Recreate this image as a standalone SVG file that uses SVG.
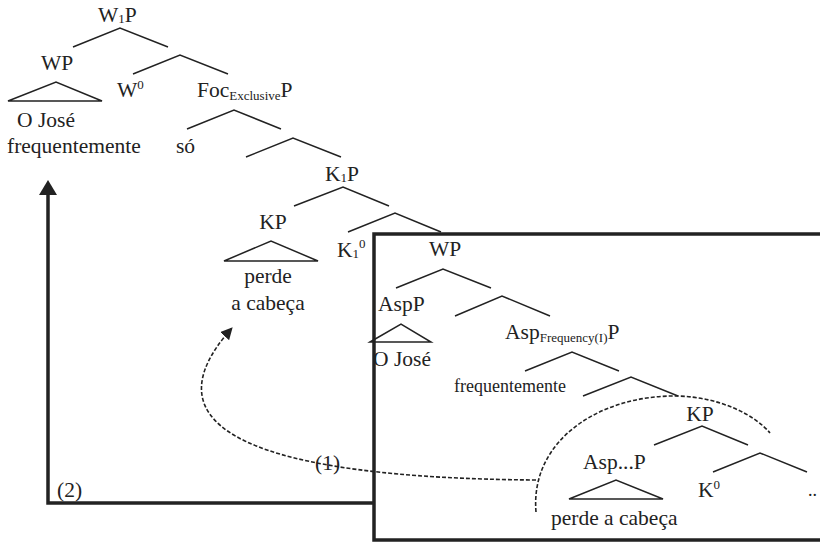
<svg xmlns="http://www.w3.org/2000/svg" width="820" height="542" viewBox="0 0 820 542">
<defs>
<style>
text{font-family:"Liberation Serif","Times New Roman",serif;font-size:21.5px;fill:#222}
.s{font-size:13px}
.sm{font-size:18px}
.br{fill:none;stroke:#222;stroke-width:1.5;stroke-linejoin:miter}
.tri{fill:none;stroke:#222;stroke-width:1.5}
.box{fill:none;stroke:#222;stroke-width:3.5}
.dash{fill:none;stroke:#222;stroke-width:1.6;stroke-dasharray:4 2}
</style>
<marker id="ah" viewBox="0 0 12 12" refX="11" refY="6" markerWidth="12" markerHeight="12" markerUnits="userSpaceOnUse" orient="auto">
<path d="M0,0 L12,6 L0,12 z" fill="#222"/>
</marker>
</defs>
<rect width="820" height="542" fill="#fff"/>

<g id="box-lower">
<rect class="box" x="374" y="234" width="470" height="306"/>
</g>

<g id="connectors">
<path class="br" d="M73,47 L120,28 L168,47"/>
<path class="br" d="M133,74 L180,55 L228,74"/>
<path class="br" d="M187,129 L234,110 L281,129"/>
<path class="br" d="M246,157 L293,138 L341,157"/>
<path class="br" d="M294,206 L343,187 L389,206"/>
<path class="br" d="M348,232 L395,213 L441,232"/>
<path class="br" d="M396,288 L443,269 L491,288"/>
<path class="br" d="M455,316 L502,296 L550,316"/>
<path class="br" d="M525,371 L572,352 L619,371"/>
<path class="br" d="M583,396 L631,377 L678,396"/>
<path class="br" d="M654,445 L702,426 L748,445"/>
<path class="br" d="M713,472 L760,453 L807,472"/>
<path class="tri" d="M8,101 L56,82 L102,101 Z"/>
<path class="tri" d="M224,261 L271,241 L318,261 Z"/>
<path class="tri" d="M370,342 L401,324 L431,342 Z"/>
<path class="tri" d="M569,499 L616,480 L663,499 Z"/>
<path class="dash" d="M536,512 C530,440 600,395 677,396 C720,397 755,415 770,433"/>
<path class="dash" d="M536,480 C260,478 140,430 232,328" marker-end="url(#ah)"/>
<path fill="none" stroke="#222" stroke-width="3.5" d="M374,503 H48 V192"/>
<polygon points="48,180 39,195 57,195" fill="#222"/>
</g>

<g id="n-W1P"><text x="98" y="22">W<tspan class="s" dy="1">1</tspan><tspan dy="-1">P</tspan></text></g>
<g id="n-WP"><text x="57" y="70" text-anchor="middle">WP</text></g>
<g id="n-W0"><text x="117" y="97">W<tspan class="s" dy="-8">0</tspan></text></g>
<g id="n-FocP"><text x="197" y="97">Foc<tspan class="s" dy="3">Exclusive</tspan><tspan dy="-3">P</tspan></text></g>
<g id="n-OJose"><text x="17" y="127">O José</text></g>
<g id="n-freq"><text x="7" y="153">frequentemente</text></g>
<g id="n-so"><text x="176" y="153">só</text></g>
<g id="n-K1P"><text x="325" y="181">K<tspan class="s" dy="1">1</tspan><tspan dy="-1">P</tspan></text></g>
<g id="n-KP"><text x="273" y="229" text-anchor="middle">KP</text></g>
<g id="n-K10"><text x="337" y="257">K<tspan class="s" dy="1">1</tspan><tspan class="s" dy="-10">0</tspan></text></g>
<g id="n-perde"><text x="268" y="283" text-anchor="middle">perde</text><text x="268" y="310" text-anchor="middle">a cabeça</text></g>
<g id="n-WP2"><text x="445" y="256" text-anchor="middle">WP</text></g>
<g id="n-AspP"><text x="378" y="311">AspP</text></g>
<g id="n-OJose2"><text x="373" y="366">O José</text></g>
<g id="n-AspFreqP"><text x="505" y="339">Asp<tspan class="s" dy="3">Frequency(I)</tspan><tspan dy="-3">P</tspan></text></g>
<g id="n-freq2"><text class="sm" x="454" y="392">frequentemente</text></g>
<g id="n-KP2"><text x="700" y="421" text-anchor="middle">KP</text></g>
<g id="n-AspdP"><text x="583" y="469">Asp...P</text></g>
<g id="n-K0"><text x="698" y="497">K<tspan class="s" dy="-8">0</tspan></text></g>
<g id="n-dots"><text class="sm" x="808" y="496">..</text></g>
<g id="n-perde2"><text x="551" y="525">perde a cabeça</text></g>
<g id="l-1"><text x="315" y="470">(1)</text></g>
<g id="l-2"><text x="57" y="497">(2)</text></g>
</svg>
